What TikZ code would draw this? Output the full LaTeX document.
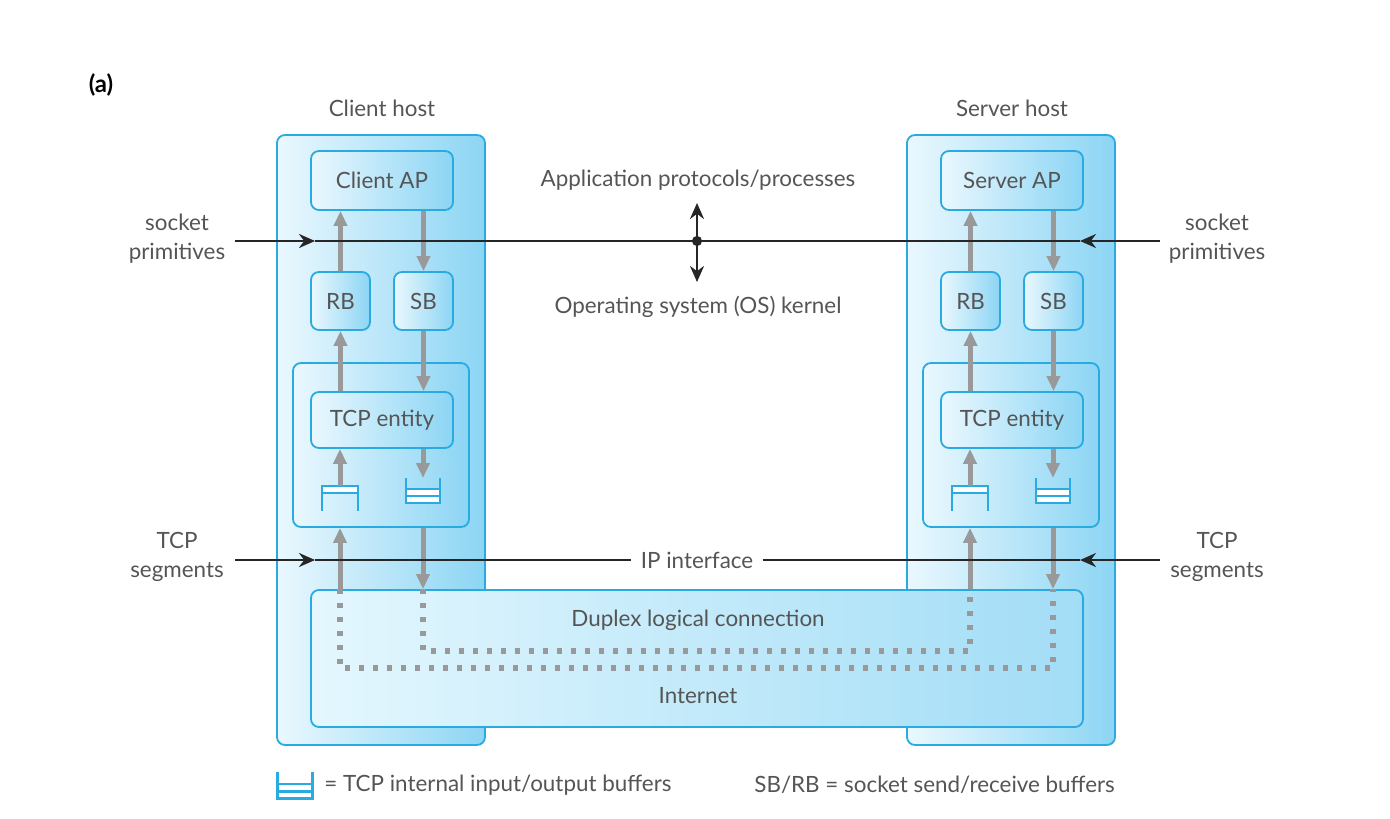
\documentclass[tikz,border=0pt]{standalone}
\usepackage{fontspec}
\setmainfont{Lato}
\usepackage{tikz}
\usetikzlibrary{arrows.meta}
\usepackage{xcolor}

\definecolor{hostcyan}{HTML}{29ABE2}
\definecolor{hostlight}{HTML}{EAF8FE}
\definecolor{hostdark}{HTML}{8CD5F4}
\definecolor{netlight}{HTML}{E4F7FE}
\definecolor{netdark}{HTML}{A2DDF6}
\definecolor{arrowgray}{HTML}{999999}
\definecolor{txtgray}{HTML}{555555}

\tikzset{
  hostbox/.style={draw=hostcyan, line width=0.9pt, rounded corners=4pt,
    left color=hostlight, right color=hostdark, inner sep=0pt},
  netbox/.style={hostbox, left color=netlight, right color=netdark},
  lbl/.style={text=txtgray, font=\fontsize{11.2}{14.5}\selectfont, align=center, inner sep=1pt},
  grayarrow/.style={arrowgray, line width=2.5pt, -{Triangle[width=6.5pt,length=7.5pt]}},
  graydots/.style={arrowgray, line width=2.7pt, dash pattern=on 2.5pt off 4.5pt},
  blackline/.style={black!85, line width=1.2pt},
  blacktip/.style={-{Stealth[length=8pt,width=7pt]}},
  inbuf/.pic={
    \draw[hostcyan, line width=1.4pt, fill=white] (-18,-12) rectangle (18,-5);
    \draw[hostcyan, line width=1.4pt] (-18,-5) -- (-18,13) (18,-5) -- (18,13);
  },
  outbuf/.pic={
    \draw[hostcyan, line width=1.4pt, fill=white] (-17,-2) rectangle (17,12);
    \draw[hostcyan, line width=1.4pt] (-17,5) -- (17,5);
    \draw[hostcyan, line width=1.4pt] (-17,-13) -- (-17,12) (17,-13) -- (17,12);
  }
}

\begin{document}
\begin{tikzpicture}[x=0.5pt, y=-0.5pt]
\useasboundingbox (0,0) rectangle (1390,818);

\node [font=\bfseries\large] (figlabel) at (101,85) {(a)};

% hosts
\node [hostbox, minimum width=104pt, minimum height=305pt] (client) at (381,440) {};
\node [hostbox, minimum width=104pt, minimum height=305pt] (server) at (1011,440) {};
\node [lbl] (clientlbl) at (382,108) {Client host};
\node [lbl] (serverlbl) at (1012,108) {Server host};

% client side
\node [hostbox, minimum width=71pt, minimum height=29.5pt, lbl] (cAP) at (382,180.5) {Client AP};
\node [hostbox, minimum width=29.5pt, minimum height=29pt, lbl] (cRB) at (340.5,301) {RB};
\node [hostbox, minimum width=29.5pt, minimum height=29pt, lbl] (cSB) at (423.5,301) {SB};
\node [hostbox, minimum width=88pt, minimum height=82pt] (cIn) at (381,445) {};
\node [hostbox, minimum width=71pt, minimum height=28pt, lbl] (cTCP) at (382,420) {TCP entity};
\pic at (340,498) {inbuf};
\pic at (423,491) {outbuf};
\coordinate (cinb) at (340,486);
\coordinate (coutb) at (423,478);

% server side
\node [hostbox, minimum width=71pt, minimum height=29.5pt, lbl] (sAP) at (1012,180.5) {Server AP};
\node [hostbox, minimum width=29.5pt, minimum height=29pt, lbl] (sRB) at (970.5,301) {RB};
\node [hostbox, minimum width=29.5pt, minimum height=29pt, lbl] (sSB) at (1053.5,301) {SB};
\node [hostbox, minimum width=88pt, minimum height=82pt] (sIn) at (1011,445) {};
\node [hostbox, minimum width=71pt, minimum height=28pt, lbl] (sTCP) at (1012,420) {TCP entity};
\pic at (970,498) {inbuf};
\pic at (1053,491) {outbuf};
\coordinate (sinb) at (970,486);
\coordinate (soutb) at (1053,478);

% internet
\node [netbox, minimum width=386pt, minimum height=68.5pt] (net) at (697,658.5) {};
\node [lbl] (duplex) at (698,620) {Duplex logical connection};
\node [lbl] (internet) at (698,696) {Internet};

% gray data paths
\draw [grayarrow] (cRB.north) -- (cRB.north |- cAP.south);
\draw [grayarrow] (cRB.south |- cTCP.north) -- (cRB.south);
\draw [grayarrow] (cinb) -- (cinb |- cTCP.south);
\draw [grayarrow] (cinb |- net.north) -- (cinb |- cIn.south);
\draw [grayarrow] (cSB.north |- cAP.south) -- (cSB.north);
\draw [grayarrow] (cSB.south) -- (cSB.south |- cTCP.north);
\draw [grayarrow] (coutb |- cTCP.south) -- (coutb);
\draw [grayarrow] (coutb |- cIn.south) -- (coutb |- net.north);

\draw [grayarrow] (sRB.north) -- (sRB.north |- sAP.south);
\draw [grayarrow] (sRB.south |- sTCP.north) -- (sRB.south);
\draw [grayarrow] (sinb) -- (sinb |- sTCP.south);
\draw [grayarrow] (sinb |- net.north) -- (sinb |- sIn.south);
\draw [grayarrow] (sSB.north |- sAP.south) -- (sSB.north);
\draw [grayarrow] (sSB.south) -- (sSB.south |- sTCP.north);
\draw [grayarrow] (soutb |- sTCP.south) -- (soutb);
\draw [grayarrow] (soutb |- sIn.south) -- (soutb |- net.north);

\coordinate (lowbend) at (340,668);
\coordinate (highbend) at (423,651);
\draw [graydots] (cinb |- net.north) -- (lowbend) -| (soutb |- net.north);
\draw [graydots] (coutb |- net.north) -- (highbend) -| (sinb |- net.north);

% socket primitives line
\coordinate (sockL) at (235,241);
\coordinate (sockLa) at (315,241);
\coordinate (sockR) at (1160,241);
\coordinate (sockRa) at (1080,241);
\draw [blackline, blacktip] (sockL) -- (sockLa);
\draw [blackline] (sockLa) -- (sockRa);
\draw [blackline, blacktip] (sockR) -- (sockRa);
\node [circle, fill=black!85, inner sep=1.8pt] (kdot) at (697,241) {};
\coordinate (kup) at (697,203);
\coordinate (kdown) at (697,282);
\draw [blackline, blacktip] (kdot) -- (kup);
\draw [blackline, blacktip] (kdot) -- (kdown);
\node [lbl] (applbl) at (698,180) {Application protocols/processes};
\node [lbl] (oslbl) at (698,307) {Operating system (OS) kernel};
\node [lbl] (sockTL) at (177,239) {socket\\primitives};
\node [lbl] (sockTR) at (1217,239) {socket\\primitives};

% IP interface line
\coordinate (tcpL) at (235,560);
\coordinate (tcpLa) at (315,560);
\coordinate (tcpR) at (1160,560);
\coordinate (tcpRa) at (1080,560);
\node [lbl, inner xsep=4.5pt] (ipif) at (697,560) {IP interface};
\draw [blackline, blacktip] (tcpL) -- (tcpLa);
\draw [blackline] (tcpLa) -- (ipif.west);
\draw [blackline] (ipif.east) -- (tcpRa);
\draw [blackline, blacktip] (tcpR) -- (tcpRa);
\node [lbl] (segTL) at (177,557) {TCP\\segments};
\node [lbl] (segTR) at (1217,557) {TCP\\segments};

% legend
\pic [scale=1.05] at (295,786) {outbuf};
\node [lbl, anchor=west] (legbuf) at (322,785) {= TCP internal input/output buffers};
\node [lbl, anchor=west] (legsock) at (752,785) {SB/RB = socket send/receive buffers};

\end{tikzpicture}
\end{document}
